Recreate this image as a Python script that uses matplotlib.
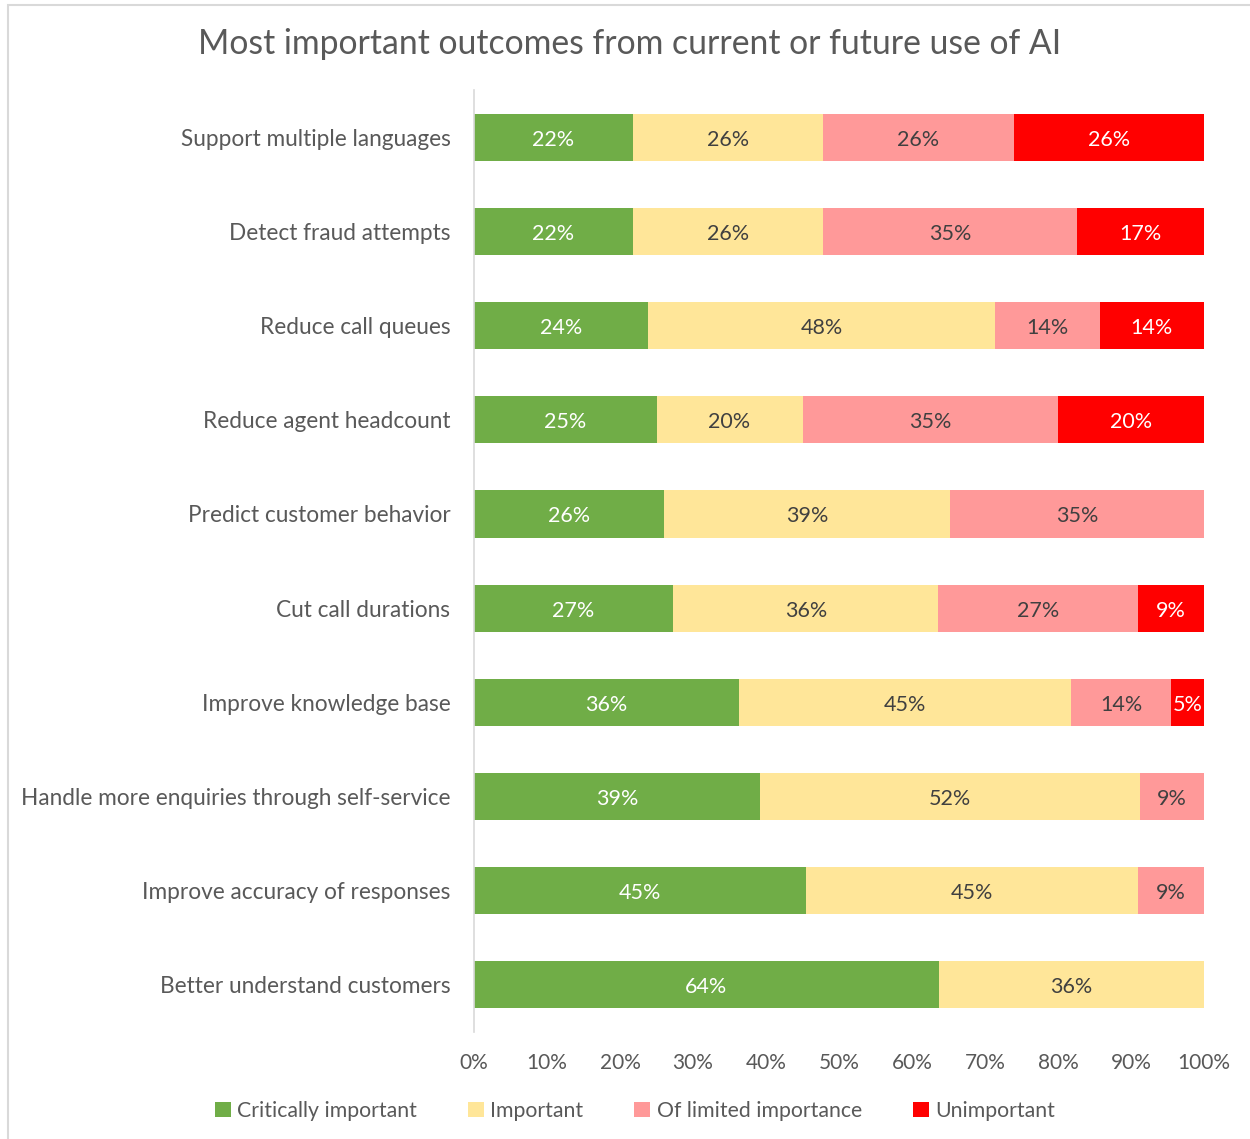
import matplotlib
matplotlib.use("Agg")
import matplotlib.pyplot as plt
from matplotlib.patches import Rectangle
import numpy as np

plt.rcParams['font.family'] = ['Lato', 'DejaVu Sans']

# Outcomes, listed from top to bottom
categories = [
    "Support multiple languages",
    "Detect fraud attempts",
    "Reduce call queues",
    "Reduce agent headcount",
    "Predict customer behavior",
    "Cut call durations",
    "Improve knowledge base",
    "Handle more enquiries through self-service",
    "Improve accuracy of responses",
    "Better understand customers",
]

# Share of respondents (%) for each rating
critically_important = [21.74, 21.74, 23.81, 25.00, 26.09, 27.27, 36.36, 39.13, 45.45, 63.64]
important            = [26.09, 26.09, 47.62, 20.00, 39.13, 36.36, 45.45, 52.17, 45.45, 36.36]
limited_importance   = [26.09, 34.78, 14.29, 35.00, 34.78, 27.27, 13.64,  8.70,  9.09,  0.00]
unimportant          = [26.09, 17.39, 14.29, 20.00,  0.00,  9.09,  4.55,  0.00,  0.00,  0.00]

series_names = ["Critically important", "Important", "Of limited importance", "Unimportant"]
series_values = [critically_important, important, limited_importance, unimportant]
colors = ["#70AD47", "#FFE699", "#FF9999", "#FF0000"]
label_colors = ["white", "#404040", "#404040", "white"]

xticks = [0, 10, 20, 30, 40, 50, 60, 70, 80, 90, 100]

fig = plt.figure(figsize=(12.5, 11.39), dpi=100)
ax = fig.add_axes([0.3792, 0.0939, 0.584, 0.827])

y = np.arange(len(categories))
left = np.zeros(len(categories))
handles = []
for name, vals, col, tcol in zip(series_names, series_values, colors, label_colors):
    vals = np.array(vals)
    bars = ax.barh(y, vals, left=left, height=0.5, color=col, label=name, linewidth=0)
    handles.append(bars)
    for yi, (l, v) in enumerate(zip(left, vals)):
        if v > 0:
            ax.text(l + v / 2, yi + 0.025, f"{v:.0f}%", ha="center", va="center",
                    color=tcol, fontsize=15.5)
    left = left + vals

ax.set_xlim(0, 100)
ax.set_ylim(len(categories) - 0.5, -0.5)
ax.set_yticks(y)
ax.set_yticklabels(categories, fontsize=16.3, color="#595959")
ax.set_xticks(xticks)
ax.set_xticklabels([f"{t}%" for t in xticks], fontsize=15, color="#595959")
ax.tick_params(axis="y", length=0, pad=17)
ax.tick_params(axis="x", length=0, pad=15)
for s in ["top", "right", "bottom"]:
    ax.spines[s].set_visible(False)
ax.spines["left"].set_color("#D9D9D9")
ax.spines["left"].set_linewidth(1.2)

fig.text(0.504, 0.9614, "Most important outcomes from current or future use of AI",
         ha="center", va="center", fontsize=24.3, color="#595959")

leg = fig.legend(handles=handles, labels=series_names, loc="center", ncol=4,
                 bbox_to_anchor=(0.508, 0.0246), frameon=False, fontsize=15.3,
                 handlelength=0.75, handleheight=0.75, handletextpad=0.3,
                 columnspacing=2.4)
for t in leg.get_texts():
    t.set_color("#595959")

# Chart area border
fig.add_artist(Rectangle((8 / 1250, -0.05), 1.1, 1 - 5 / 1139 + 0.05,
                         transform=fig.transFigure, fill=False,
                         edgecolor="#D9D9D9", linewidth=1.5))

fig.savefig("out.png", dpi=100)
